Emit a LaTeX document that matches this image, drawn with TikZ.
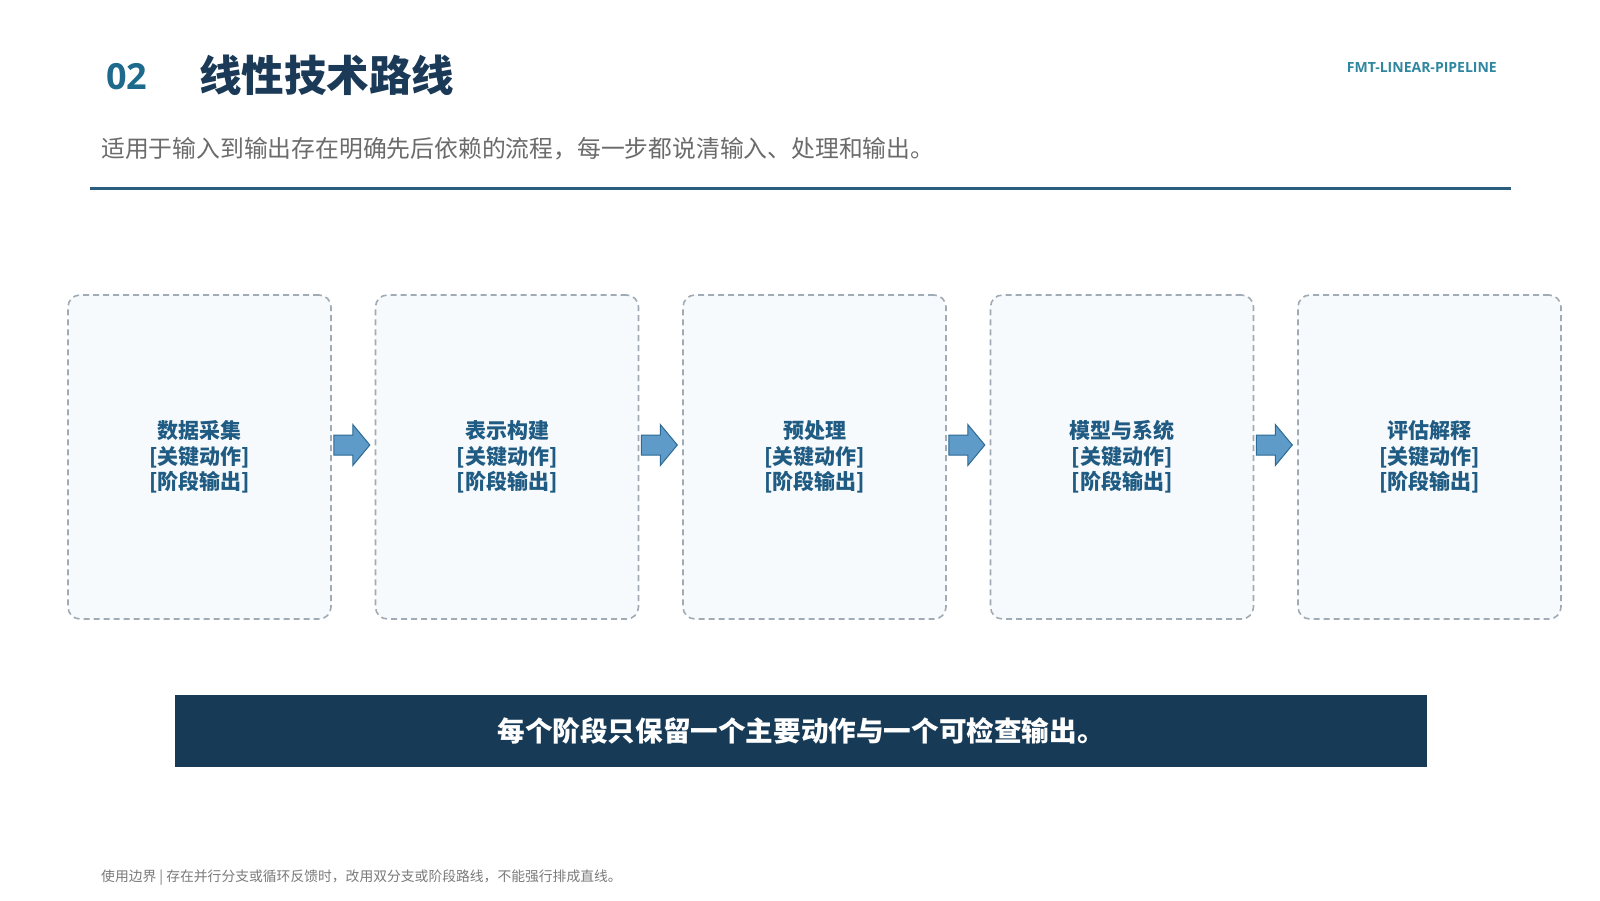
\documentclass[tikz,border=0pt]{standalone}
\usepackage{fontspec}
\newfontfamily\cjk{Noto Sans CJK SC}
\newfontfamily\latinb{Open Sans}
\usetikzlibrary{calc}
\definecolor{numc}{HTML}{1E6A8D}
\definecolor{titlec}{HTML}{1B3A57}
\definecolor{tagc}{HTML}{2F86A0}
\definecolor{subc}{HTML}{6B6B6B}
\definecolor{rulec}{HTML}{2B5E7E}
\definecolor{boxfill}{HTML}{F7FAFC}
\definecolor{boxedge}{HTML}{A0ABB5}
\definecolor{boxtext}{HTML}{1F5B82}
\definecolor{arrfill}{HTML}{5E9BC9}
\definecolor{arredge}{HTML}{2D6A94}
\definecolor{bannerc}{HTML}{173A56}
\definecolor{footc}{HTML}{7A7A7A}
\tikzset{
  stagebox/.style={draw=boxedge, fill=boxfill, line width=1.6pt, dash pattern=on 6pt off 4pt,
    rounded corners=12pt, minimum width=263pt, minimum height=324pt, inner sep=0pt,
    align=center, text=boxtext, font=\cjk\bfseries\fontsize{21}{25.5}\selectfont},
  blockarrow/.style={draw=arredge, fill=arrfill, line width=1pt, line join=miter},
}
\begin{document}
\begin{tikzpicture}[x=1pt,y=-1pt]
\useasboundingbox[fill=white] (0,0) rectangle (1600,900);
% header
\node[anchor=west, inner sep=0pt, text=numc, font=\latinb\bfseries\fontsize{36}{36}\selectfont] (num) at (106,77) {02};
\node[anchor=west, inner sep=0pt, text=titlec, font=\cjk\bfseries\fontsize{42.5}{42.5}\selectfont] (title) at (199,75) {线性技术路线};
\node[anchor=east, inner sep=0pt, text=tagc, font=\latinb\bfseries\fontsize{14}{14}\selectfont] (tag) at (1497,67) {FMT-LINEAR-PIPELINE};
\node[anchor=west, inner sep=0pt, text=subc, font=\cjk\fontsize{23.8}{23.8}\selectfont] (sub) at (101,149) {适用于输入到输出存在明确先后依赖的流程，每一步都说清输入、处理和输出。};
\coordinate (rl) at (90,188);
\coordinate (rr) at (1511,188);
\draw[rulec, line width=3pt] (rl) -- (rr);
% stages
\node[stagebox] (b1) at (199.5,457) {数据采集\\{}[关键动作]\\{}[阶段输出]};
\node[stagebox] (b2) at (507,457) {表示构建\\{}[关键动作]\\{}[阶段输出]};
\node[stagebox] (b3) at (814.5,457) {预处理\\{}[关键动作]\\{}[阶段输出]};
\node[stagebox] (b4) at (1122,457) {模型与系统\\{}[关键动作]\\{}[阶段输出]};
\node[stagebox] (b5) at (1429.5,457) {评估解释\\{}[关键动作]\\{}[阶段输出]};
% arrows
\foreach \a in {b1,b2,b3,b4}{
  \draw[blockarrow] ($(\a.east)+(2,-22)$) -- ++(19,0) -- ++(0,-10.5) -- ++(17,20.5) -- ++(-17,20.5) -- ++(0,-10.5) -- ++(-19,0) -- cycle;
}
% banner
\node[fill=bannerc, minimum width=1252pt, minimum height=72pt, inner sep=0pt, text=white,
  font=\cjk\bfseries\fontsize{27.6}{27.6}\selectfont] (banner) at (801,731) {每个阶段只保留一个主要动作与一个可检查输出。};
% footer
\node[anchor=west, inner sep=0pt, text=footc, font=\cjk\fontsize{13.8}{13.8}\selectfont] (foot) at (101,878) {使用边界 | 存在并行分支或循环反馈时，改用双分支或阶段路线，不能强行排成直线。};
\end{tikzpicture}
\end{document}
